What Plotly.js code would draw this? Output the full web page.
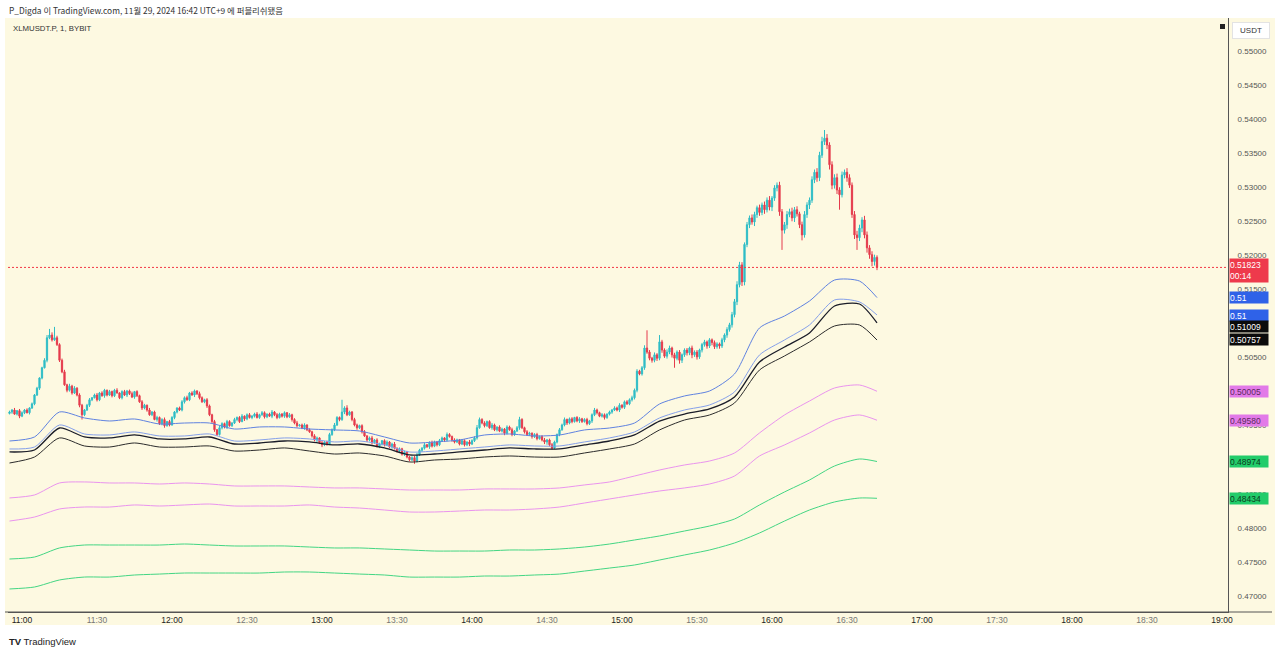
<!DOCTYPE html>
<html>
<head>
<meta charset="utf-8">
<script src="https://cdn.plot.ly/plotly-3.0.1.min.js"></script>
<style>
html,body{margin:0;padding:0;background:#ffffff;}
#chart{width:1280px;height:654px;}
</style>
</head>
<body>
<div id="chart"></div>
<script>
// ---------- DATA ----------
// 1-minute candles, first candle at 10:55, one value per minute
const firstCandleMinute = -5;          // minutes relative to 11:00
const firstOpen = 0.4968;
const closes = [
0.4970,0.4973,0.4967,0.4972,0.4964,0.4969,0.4973,0.4969,0.4976,0.4982,
0.4995,0.5005,0.5020,0.5035,0.5046,0.5079,0.5083,0.5076,0.5079,0.5069,
0.5046,0.5029,0.5010,0.5002,0.5008,0.4998,0.5005,0.4995,0.4980,0.4966,
0.4973,0.4980,0.4988,0.4991,0.4995,0.4988,0.4998,0.4994,0.5002,0.4995,
0.5000,0.4994,0.5002,0.4998,0.4991,0.5000,0.4995,0.5001,0.4997,0.4992,
0.5000,0.4994,0.4985,0.4976,0.4980,0.4973,0.4966,0.4970,0.4959,0.4962,
0.4953,0.4959,0.4950,0.4956,0.4951,0.4962,0.4970,0.4976,0.4973,0.4985,
0.4991,0.4988,0.4998,0.4995,0.5001,0.4997,0.4991,0.4985,0.4988,0.4979,
0.4966,0.4956,0.4944,0.4937,0.4947,0.4953,0.4948,0.4956,0.4950,0.4954,
0.4959,0.4962,0.4956,0.4964,0.4960,0.4966,0.4962,0.4964,0.4967,0.4962,
0.4966,0.4969,0.4963,0.4967,0.4964,0.4970,0.4966,0.4962,0.4967,0.4964,
0.4969,0.4963,0.4966,0.4959,0.4954,0.4950,0.4951,0.4947,0.4951,0.4944,
0.4941,0.4935,0.4929,0.4932,0.4925,0.4922,0.4926,0.4923,0.4937,0.4944,
0.4951,0.4962,0.4959,0.4970,0.4976,0.4966,0.4970,0.4959,0.4951,0.4947,
0.4950,0.4941,0.4935,0.4929,0.4932,0.4925,0.4929,0.4920,0.4923,0.4928,
0.4922,0.4926,0.4919,0.4923,0.4917,0.4913,0.4916,0.4908,0.4911,0.4904,
0.4900,0.4903,0.4898,0.4907,0.4914,0.4917,0.4922,0.4919,0.4925,0.4920,
0.4926,0.4922,0.4928,0.4932,0.4929,0.4937,0.4934,0.4929,0.4926,0.4929,
0.4923,0.4928,0.4922,0.4926,0.4923,0.4928,0.4932,0.4947,0.4959,0.4954,
0.4950,0.4956,0.4947,0.4951,0.4944,0.4948,0.4942,0.4945,0.4939,0.4948,
0.4944,0.4937,0.4942,0.4947,0.4959,0.4947,0.4941,0.4937,0.4939,0.4934,
0.4937,0.4931,0.4934,0.4929,0.4926,0.4929,0.4922,0.4917,0.4926,0.4937,
0.4944,0.4951,0.4959,0.4954,0.4960,0.4956,0.4962,0.4957,0.4960,0.4956,
0.4959,0.4953,0.4957,0.4966,0.4973,0.4969,0.4964,0.4966,0.4962,0.4967,
0.4970,0.4973,0.4976,0.4973,0.4980,0.4977,0.4985,0.4982,0.4988,0.4991,
0.5002,0.5030,0.5026,0.5035,0.5064,0.5058,0.5049,0.5046,0.5054,0.5049,
0.5073,0.5061,0.5052,0.5058,0.5064,0.5054,0.5049,0.5058,0.5046,0.5054,
0.5061,0.5057,0.5064,0.5054,0.5058,0.5051,0.5061,0.5069,0.5073,0.5067,
0.5076,0.5072,0.5066,0.5070,0.5067,0.5076,0.5083,0.5091,0.5098,0.5113,
0.5132,0.5157,0.5186,0.5161,0.5216,0.5245,0.5255,0.5249,0.5260,0.5270,
0.5263,0.5274,0.5267,0.5281,0.5271,0.5284,0.5299,0.5303,0.5264,0.5237,
0.5245,0.5260,0.5264,0.5255,0.5267,0.5261,0.5245,0.5230,0.5260,0.5274,
0.5281,0.5311,0.5322,0.5314,0.5347,0.5367,0.5372,0.5362,0.5333,0.5303,
0.5314,0.5296,0.5289,0.5318,0.5322,0.5314,0.5303,0.5260,0.5230,0.5226,
0.5240,0.5252,0.5230,0.5211,0.5201,0.5191,0.5197,0.51823
];
// wick lengths beyond the body, in units of 0.00001
const wickUp = [
20,15,30,10,25,20,15,25,10,20,
15,20,10,15,30,40,90,40,160,30,
20,25,30,15,35,20,30,15,25,20,
15,20,25,10,20,30,15,25,20,10,
25,15,20,30,10,20,25,15,20,30,
10,20,15,25,20,10,30,15,20,25,
15,20,30,10,25,20,15,10,20,25,
20,30,15,25,20,10,30,20,15,25,
20,15,25,10,30,20,15,25,20,10,
25,15,20,30,10,20,25,15,20,30,
15,25,20,10,20,30,15,25,20,15,
20,10,25,15,20,30,15,20,25,10,
20,15,25,20,10,30,15,20,25,20,
30,20,15,180,25,40,20,15,25,20,
15,20,25,10,20,30,15,25,20,10,
20,25,15,20,30,10,20,15,25,20,
15,20,25,30,20,15,25,10,20,30,
20,15,25,20,10,30,20,15,25,20,
15,25,20,10,30,20,25,40,30,20,
25,15,20,30,20,10,25,20,15,25,
20,30,15,25,40,20,15,25,20,10,
20,25,15,20,30,15,20,25,20,15,
25,20,30,15,20,25,10,20,25,15,
20,25,15,20,30,20,15,25,20,10,
20,15,25,20,30,15,20,25,20,30,
25,30,20,25,40,260,30,20,35,25,
100,30,25,40,35,20,30,25,30,20,
25,30,20,35,25,30,20,25,30,20,
25,20,30,25,20,30,25,35,30,40,
40,50,45,40,30,40,35,50,40,30,
45,35,50,40,60,30,40,40,50,40,
40,50,45,60,40,50,30,45,50,40,
40,50,40,60,50,70,120,60,40,50,
50,60,40,50,40,60,50,40,50,60,
50,40,60,50,40,50,40,30
];
const wickDn = [
15,25,10,20,30,15,20,10,25,15,
20,15,25,20,10,30,20,25,15,20,
25,20,15,30,20,25,15,20,30,70,
20,15,25,20,10,25,20,15,30,20,
15,25,20,10,20,25,15,30,20,15,
25,20,15,30,20,25,15,20,10,30,
20,25,30,15,20,10,25,20,15,20,
25,15,20,10,30,20,25,15,20,30,
20,25,30,20,15,25,20,30,15,20,
15,25,20,10,30,20,15,25,20,15,
20,15,25,20,10,30,20,25,15,20,
25,20,15,30,20,25,15,20,30,20,
15,25,20,30,20,35,20,25,15,20,
20,15,25,20,30,20,15,25,20,30,
20,25,15,30,20,25,15,20,30,20,
25,15,20,30,20,25,15,20,25,20,
25,20,40,20,15,25,20,15,30,20,
15,25,20,10,30,20,15,25,20,15,
20,15,25,20,30,15,20,25,15,20,
25,20,15,30,20,25,15,20,30,20,
15,25,20,10,30,20,25,15,20,30,
20,25,15,20,30,40,25,20,15,20,
25,15,20,30,20,25,15,20,30,20,
15,25,20,30,20,25,15,20,30,20,
20,25,15,20,30,20,25,15,20,25,
25,30,20,25,30,25,30,35,30,40,
30,40,25,35,30,40,140,30,50,40,
30,40,35,50,30,40,30,35,30,40,
30,40,35,30,40,30,35,40,30,40,
40,50,40,60,50,40,50,40,60,50,
50,40,60,40,50,60,40,50,60,290,
50,60,40,50,60,40,50,80,40,50,
60,40,50,60,50,40,50,60,70,60,
50,60,220,40,50,60,40,50,60,180,
50,60,50,70,60,70,60,40
];

// moving-average style lines, sampled every 10 minutes (minutes relative to 11:00)
const lineMinutes = [-5,5,15,25,35,45,55,65,75,85,95,105,115,125,135,145,155,165,175,185,195,205,215,225,235,245,255,265,275,285,295,305,315,325,335,342];
const blueUpper = [0.49275,0.49334,0.49701,0.49613,0.49569,0.49598,0.49525,0.49539,0.49539,0.49451,0.49481,0.49481,0.49451,0.49437,0.49422,0.49334,0.49246,0.49260,0.49290,0.49363,0.49378,0.49349,0.49363,0.49437,0.49466,0.49539,0.49818,0.49936,0.50009,0.50259,0.50934,0.51110,0.51330,0.51638,0.51623,0.51380];
const blueLower = [0.49158,0.49187,0.49510,0.49378,0.49364,0.49408,0.49349,0.49349,0.49378,0.49275,0.49290,0.49320,0.49305,0.49261,0.49275,0.49217,0.49114,0.49128,0.49158,0.49187,0.49217,0.49202,0.49202,0.49261,0.49320,0.49408,0.49613,0.49730,0.49804,0.49995,0.50538,0.50758,0.50978,0.51345,0.51316,0.51125];
const blackUpper = [0.49114,0.49143,0.49466,0.49334,0.49320,0.49364,0.49305,0.49305,0.49334,0.49231,0.49246,0.49275,0.49261,0.49217,0.49231,0.49173,0.49070,0.49084,0.49114,0.49143,0.49173,0.49158,0.49158,0.49217,0.49275,0.49364,0.49568,0.49671,0.49745,0.49921,0.50435,0.50655,0.50861,0.51257,0.51286,0.51009];
const blackLower = [0.48952,0.49040,0.49320,0.49202,0.49187,0.49246,0.49187,0.49187,0.49202,0.49128,0.49143,0.49173,0.49128,0.49084,0.49099,0.49055,0.48967,0.48996,0.49011,0.49040,0.49055,0.49040,0.49040,0.49099,0.49158,0.49231,0.49437,0.49583,0.49657,0.49833,0.50317,0.50523,0.50729,0.50963,0.50978,0.50757];
const pinkUpper = [0.48439,0.48483,0.48659,0.48674,0.48659,0.48659,0.48644,0.48659,0.48644,0.48615,0.48615,0.48615,0.48600,0.48586,0.48586,0.48571,0.48556,0.48556,0.48556,0.48571,0.48571,0.48571,0.48586,0.48630,0.48674,0.48761,0.48849,0.48923,0.48981,0.49099,0.49393,0.49657,0.49862,0.50053,0.50097,0.50005];
const pinkLower = [0.48100,0.48159,0.48277,0.48306,0.48306,0.48336,0.48321,0.48336,0.48350,0.48321,0.48321,0.48321,0.48336,0.48306,0.48291,0.48262,0.48233,0.48233,0.48247,0.48262,0.48262,0.48277,0.48306,0.48365,0.48424,0.48483,0.48541,0.48586,0.48644,0.48761,0.49055,0.49217,0.49393,0.49583,0.49657,0.49580];
const greenUpper = [0.47543,0.47572,0.47705,0.47748,0.47748,0.47748,0.47748,0.47763,0.47748,0.47734,0.47734,0.47734,0.47719,0.47705,0.47705,0.47690,0.47675,0.47660,0.47660,0.47660,0.47675,0.47675,0.47690,0.47719,0.47763,0.47822,0.47881,0.47954,0.48027,0.48130,0.48336,0.48527,0.48703,0.48908,0.49011,0.48974];
const greenLower = [0.47103,0.47132,0.47235,0.47278,0.47278,0.47308,0.47322,0.47337,0.47337,0.47337,0.47337,0.47352,0.47352,0.47337,0.47322,0.47308,0.47278,0.47278,0.47278,0.47293,0.47293,0.47308,0.47322,0.47366,0.47410,0.47455,0.47528,0.47602,0.47675,0.47778,0.47925,0.48100,0.48262,0.48380,0.48438,0.48434];

// right-axis price tags
const tagTexts = ['0.51','0.51','0.51009','0.50757','0.50005','0.49580','0.48974','0.48434'];
const lastPrice = 0.51823;
const lastPriceText = '0.51823<br>00:14';

// price axis ticks that stay visible (the others sit under the price tags)
const priceTicks = [0.47,0.475,0.48,0.485,0.495,0.505,0.515,0.52,0.525,0.53,0.535,0.54,0.545,0.55];

// time axis
const tickMinutes = [0,30,60,90,120,150,180,210,240,270,300,330,360,390,420,450,480];
const tickLabels = ['11:00','11:30','12:00','12:30','13:00','13:30','14:00','14:30','15:00','15:30','16:00','16:30','17:00','17:30','18:00','18:30','19:00'];

// ---------- BUILD ----------
function t(min){
  const d = new Date(Date.UTC(2024,10,29,11,0,0) + Math.round(min*60000));
  return d.toISOString().replace('T',' ').slice(0,19);
}
const cx=[], co=[], ch=[], cl=[], cc=[];
for(let i=0;i<closes.length;i++){
  const o = i===0 ? firstOpen : closes[i-1];
  const c = closes[i];
  cx.push(t(firstCandleMinute+i));
  co.push(o); cc.push(c);
  ch.push(Math.max(o,c) + wickUp[i]/1e5);
  cl.push(Math.min(o,c) - wickDn[i]/1e5);
}
const lx = lineMinutes.map(t);

const UP='#2fbdc6', DOWN='#e53b4c';
function lineTrace(y,color,width){
  return {type:'scatter',mode:'lines',x:lx,y:y,line:{color:color,width:width,shape:'spline',smoothing:0.7},hoverinfo:'skip'};
}
const L=8, R=1228, T=18, B=612;
const PW=R-L, PH=B-T;
function px(x){return (x-L)/PW;}
function py(y){return (B-y)/PH;}
const yr=[0.46765,0.55484];
function pyPrice(y){return yr[1]-(y-T)/PH*(yr[1]-yr[0]);}

const traces = [
  lineTrace(greenLower,'#43d683',1),
  lineTrace(greenUpper,'#43d683',1),
  lineTrace(pinkLower,'#ea94ee',1),
  lineTrace(pinkUpper,'#ea94ee',1),
  lineTrace(blackLower,'#2b2b2b',1),
  lineTrace(blackUpper,'#1a1c28',1.3),
  lineTrace(blueLower,'#85a0ea',1),
  lineTrace(blueUpper,'#5f82e0',1),
  {type:'scatter',mode:'lines',x:[t(-5.6),t(482.4)],y:[lastPrice,lastPrice],
   line:{color:'#f23645',width:1,dash:'2px,2px'},hoverinfo:'skip'},
  {type:'candlestick',x:cx,open:co,high:ch,low:cl,close:cc,
   increasing:{line:{color:UP,width:1},fillcolor:UP},
   decreasing:{line:{color:DOWN,width:1},fillcolor:DOWN},
   whiskerwidth:0,hoverinfo:'skip'}
];

// tag placement (stacked like the reference so boxes do not collide)
const tagCenterPx = [297,315,326.5,339,391,420,461,498];
const tagBg = ['#2f62e8','#2f62e8','#0b0b0b','#0b0b0b','#e27ae8','#e27ae8','#22cc6a','#22cc6a'];
const tagFg = ['#ffffff','#ffffff','#ffffff','#ffffff','#5a2a5e','#5a2a5e','#0d3b20','#0d3b20'];

const annotations = [];
tagTexts.forEach((txt,i)=>{
  annotations.push({xref:'paper',yref:'y',x:px(1229),y:pyPrice(tagCenterPx[i]),xanchor:'left',yanchor:'middle',
    text:txt,showarrow:false,bgcolor:tagBg[i],font:{family:'Liberation Sans, Arial',size:8.5,color:tagFg[i]},
    width:38,height:11,align:'left',borderpad:0});
});
annotations.push({xref:'paper',yref:'y',x:px(1229),y:pyPrice(270),xanchor:'left',yanchor:'middle',
  text:lastPriceText,showarrow:false,bgcolor:'#ee3a4c',font:{family:'Liberation Sans, Arial',size:8.5,color:'#ffffff'},
  width:38,height:23,align:'left',borderpad:0});
annotations.push({xref:'paper',yref:'paper',x:px(1251),y:py(30),xanchor:'center',yanchor:'middle',
  text:'USDT',showarrow:false,bgcolor:'#ffffff',bordercolor:'#e3e3e3',borderwidth:1,
  font:{family:'Liberation Sans, Arial',size:8,color:'#333'},width:34,height:13,borderpad:1});
annotations.push({xref:'paper',yref:'paper',x:px(7),y:py(10),xanchor:'left',yanchor:'middle',
  text:'P_Digda 이 TradingView.com, 11월 29, 2024 16:42 UTC+9 에 퍼블리쉬됐음',showarrow:false,
  font:{family:'Noto Sans CJK KR, Noto Sans, sans-serif',size:8.4,color:'#333'}});
annotations.push({xref:'paper',yref:'paper',x:px(11),y:py(29),xanchor:'left',yanchor:'middle',
  text:'XLMUSDT.P, 1, BYBIT',showarrow:false,
  font:{family:'Liberation Sans, Arial',size:7.8,color:'#333'}});
annotations.push({xref:'paper',yref:'paper',x:px(7),y:py(641),xanchor:'left',yanchor:'middle',
  text:'<b>TV</b> TradingView',showarrow:false,
  font:{family:'Liberation Sans, Arial',size:9.5,color:'#222'}});

const shapes = [
  {type:'rect',xref:'paper',yref:'paper',x0:px(5),x1:px(1275),y0:py(625),y1:py(18),
   fillcolor:'#fdf9e1',line:{width:0},layer:'below'},
  {type:'rect',xref:'paper',yref:'paper',x0:px(1220),x1:px(1225),y0:py(29),y1:py(24),
   fillcolor:'#222',line:{width:0}},
  {type:'line',xref:'paper',yref:'paper',x0:px(5),x1:px(1272),y0:0,y1:0,line:{color:'#555',width:1}}
];

const tickText = tickLabels.map(s=> s.endsWith(':00')
  ? '<span style="color:#222">'+s+'</span>'
  : '<span style="color:#777">'+s+'</span>');

const layout = {
  width:1280,height:654,
  margin:{l:L,r:1280-R,t:T,b:654-B,pad:0},
  paper_bgcolor:'#ffffff',plot_bgcolor:'#fdf9e1',
  showlegend:false,hovermode:false,dragmode:false,
  xaxis:{type:'date',range:[t(-5.6),t(482.4)],rangeslider:{visible:false},
    tickmode:'array',tickvals:tickMinutes.map(t),ticktext:tickText,
    showgrid:false,zeroline:false,showline:true,linecolor:'#555',linewidth:1,
    ticks:'',ticklabelstandoff:0,
    tickfont:{family:'Liberation Sans, Arial',size:8.5,color:'#444'},fixedrange:true},
  yaxis:{side:'right',range:yr,tickmode:'array',tickvals:priceTicks,tickformat:'.5f',
    showgrid:false,zeroline:false,showline:true,linecolor:'#555',linewidth:1,
    ticks:'',ticklabelstandoff:7,
    tickfont:{family:'Liberation Sans, Arial',size:8,color:'#555'},fixedrange:true},
  annotations:annotations,
  shapes:shapes
};

Plotly.newPlot('chart',traces,layout,{displayModeBar:false,staticPlot:true});
</script>
</body>
</html>
